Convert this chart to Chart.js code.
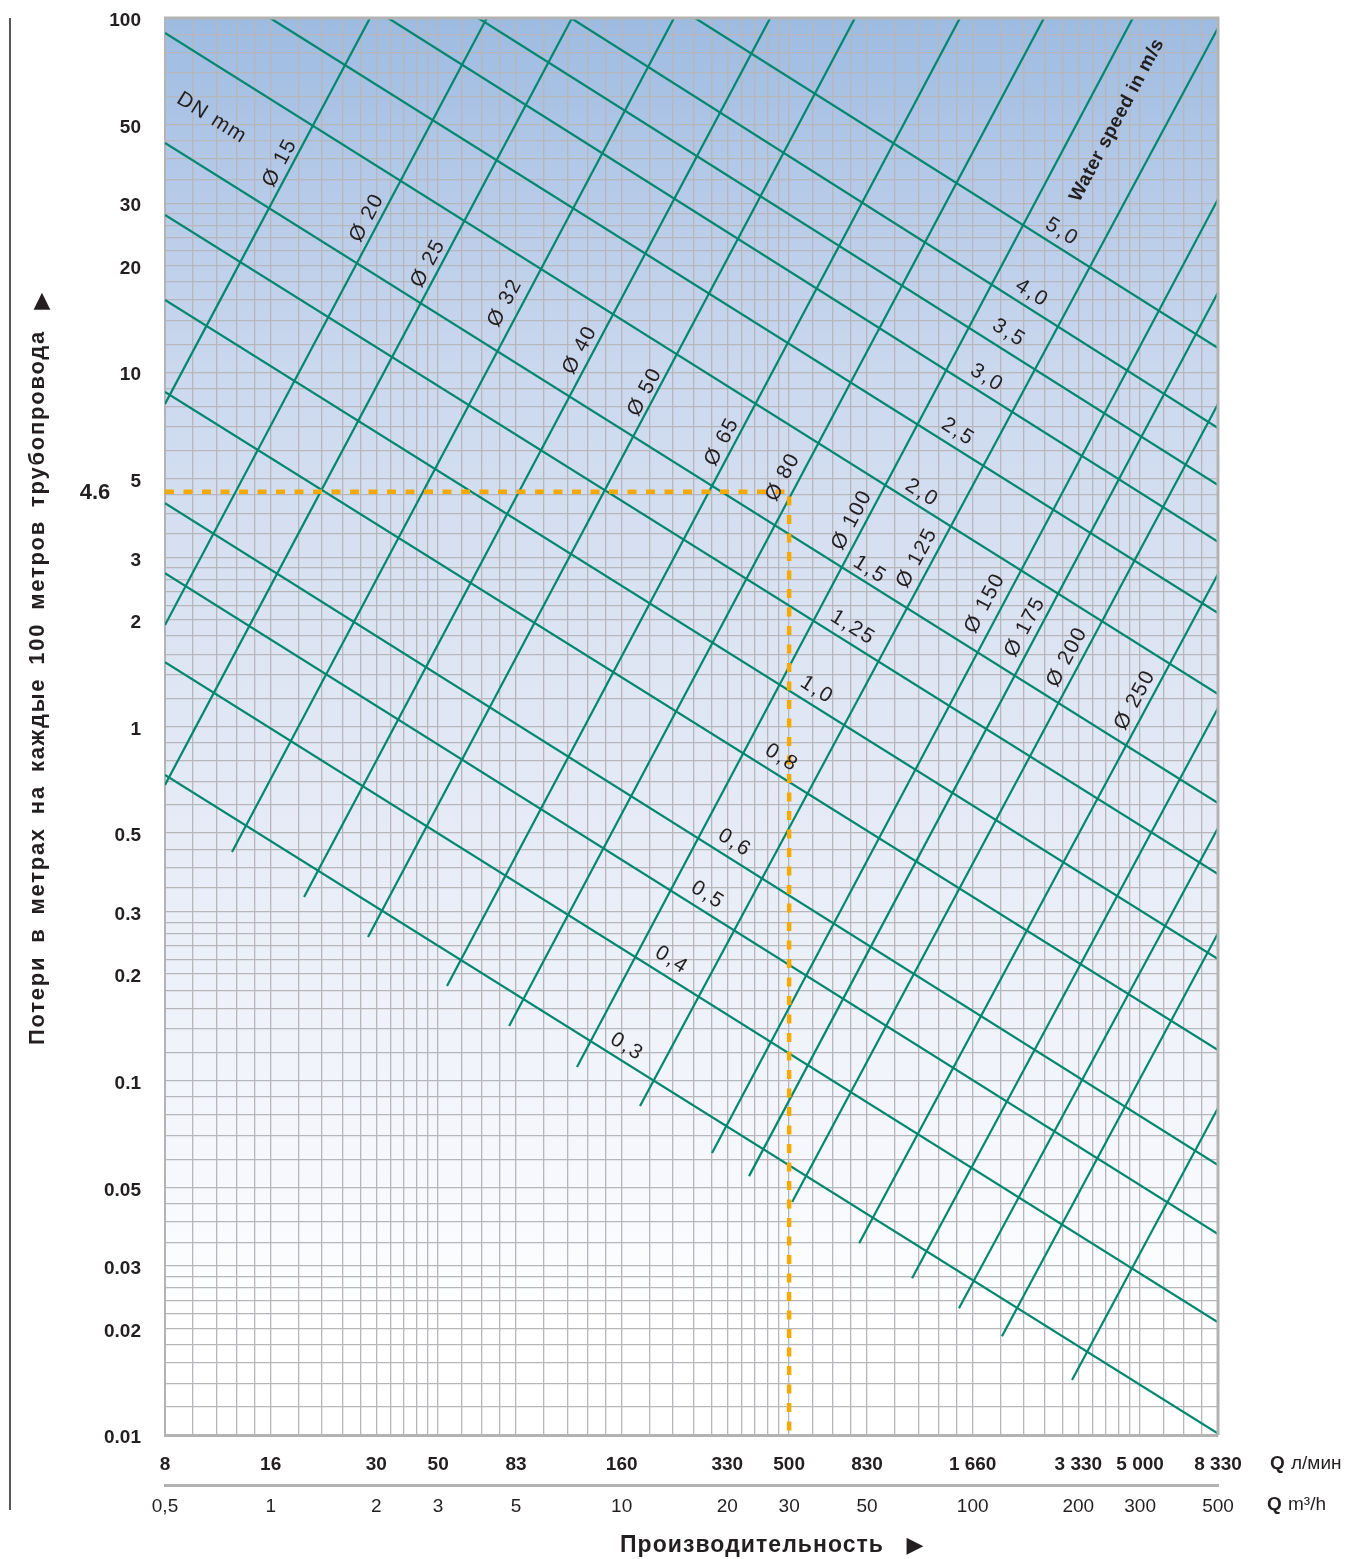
<!DOCTYPE html>
<html>
<head>
<meta charset="utf-8">
<script src="https://cdn.jsdelivr.net/npm/chart.js@4.4.1/dist/chart.umd.min.js"></script>
<style>
html, body { margin: 0; padding: 0; background: #fff; }
</style>
</head>
<body>
<canvas id="graficoPerdas" width="1350" height="1559"></canvas>
<script>

// ===========================
// DADOS
// ===========================

// eixo X em m3/h (linha de cima mostra o mesmo ponto em l/min)
const vazaoTicks = [0.5, 1, 2, 3, 5, 10, 20, 30, 50, 100, 200, 300, 500];
const rotulosLmin = ['8', '16', '30', '50', '83', '160', '330', '500', '830', '1 660', '3 330', '5 000', '8 330'];
const rotulosM3h = ['0,5', '1', '2', '3', '5', '10', '20', '30', '50', '100', '200', '300', '500'];

// eixo Y: perda em metros a cada 100 m
const perdaTicks = [100, 50, 30, 20, 10, 5, 3, 2, 1, 0.5, 0.3, 0.2, 0.1, 0.05, 0.03, 0.02, 0.01];
const rotulosPerda = ['100', '50', '30', '20', '10', '5', '3', '2', '1', '0.5', '0.3', '0.2', '0.1', '0.05', '0.03', '0.02', '0.01'];

// linhas da grade do papel log
const gradeMantissas = [1, 1.2, 1.4, 1.6, 1.8, 2, 2.2, 2.4, 2.6, 2.8, 3, 3.5, 4, 4.5, 5, 6, 7, 8, 9];

// linhas de diâmetro (DN)
const dnNomes = ['Ø 15', 'Ø 20', 'Ø 25', 'Ø 32', 'Ø 40', 'Ø 50', 'Ø 65', 'Ø 80', 'Ø 100', 'Ø 125', 'Ø 150', 'Ø 175', 'Ø 200', 'Ø 250', '', '', '', ''];
const dnQInicio = [0.5, 0.5, 0.5, 0.776, 1.245, 1.894, 3.18, 4.78, 7.46, 11.28, 18.09, 23.06, 30.6, 47.5, 67.2, 91.4, 121.2, 191.9];
const dnPerdaInicio = [8.14, 1.934, 0.684, 0.442, 0.330, 0.2545, 0.185, 0.1427, 0.1093, 0.0849, 0.0625, 0.0538, 0.0455, 0.0348, 0.0277, 0.0228, 0.0190, 0.0143];
const dnQFim = [1.919, 4.13, 7.22, 14.1, 26.5, 46.2, 92.0, 159.7, 286, 500, 500, 500, 500, 500, 500, 500, 500, 500];
const dnPerdaFim = [100, 100, 100, 100, 100, 100, 100, 100, 100, 93.7, 30.8, 16.8, 8.14, 2.695, 1.128, 0.517, 0.261, 0.0838];

// linhas de velocidade da água (m/s)
const velNomes = ['5,0', '4,0', '3,5', '3,0', '2,5', '2,0', '1,5', '1,25', '1,0', '0,8', '0,6', '0,5', '0,4', '0,3'];
const velQInicio = [16.18, 7.17, 3.90, 2.16, 0.996, 0.5, 0.5, 0.5, 0.5, 0.5, 0.5, 0.5, 0.5, 0.5];
const velPerdaInicio = [100, 100, 100, 100, 100, 90.7, 44.4, 27.8, 16.0, 8.80, 4.27, 2.71, 1.52, 0.730];
const velQFim = [500, 500, 500, 500, 500, 500, 500, 500, 500, 500, 500, 500, 500, 500];
const velPerdaFim = [11.7, 6.96, 4.80, 3.32, 2.09, 1.235, 0.608, 0.3835, 0.2207, 0.1221, 0.0578, 0.0369, 0.0208, 0.0101];

// exemplo tracejado
const exemploQ = 30;
const exemploPerda = 4.6;

// ===========================
// POSIÇÃO DOS RÓTULOS (em unidades do gráfico)
// ===========================

const dnRotuloQ = [1.063, 1.882, 2.81, 4.65, 7.61, 11.65, 19.32, 28.8, 45.3, 69.4, 108.4, 141, 185.7, 290];
const dnRotuloPerda = [39.0, 27.3, 20.3, 15.7, 11.56, 8.80, 6.36, 5.06, 3.83, 2.99, 2.23, 1.91, 1.571, 1.188];
const velRotuloQ = [179.7, 147.6, 127, 109.9, 90.9, 71.7, 51.0, 45.6, 36.0, 28.6, 21.0, 17.6, 13.9, 10.36];
const velRotuloPerda = [24.9, 16.7, 12.9, 9.63, 6.78, 4.56, 2.77, 1.90, 1.268, 0.815, 0.469, 0.334, 0.219, 0.1245];


const FONTE = "'Liberation Sans', Arial, sans-serif";
const VERDE = '#00876f';
const TEXTO = '#231f20';


function grade(min, max){
    const valores = [];
    for (let e = -3; e <= 3; e++) {
        gradeMantissas.forEach(m => {
            const v = Number((m * Math.pow(10, e)).toPrecision(6));
            if (v >= min * 0.999999 && v <= max * 1.000001) valores.push(v);
        });
    }
    return valores;
}

function achar(lista, valor){
    return lista.findIndex(t => Math.abs(t - valor) / t < 1e-6);
}


// ===========================
// DATASETS
// ===========================

const datasets = [];

datasets.push({
    data: [
        {x: 0.5, y: exemploPerda},
        {x: exemploQ, y: exemploPerda},
        {x: exemploQ, y: 0.01}
    ],
    borderColor: '#f6aa00',
    borderWidth: 4.5,
    borderDash: [9, 9.5]
});

dnNomes.forEach((nome, i) => {
    datasets.push({
        data: [
            {x: dnQInicio[i], y: dnPerdaInicio[i]},
            {x: dnQFim[i], y: dnPerdaFim[i]}
        ],
        borderColor: VERDE,
        borderWidth: 2.2
    });
});

velNomes.forEach((nome, i) => {
    datasets.push({
        data: [
            {x: velQInicio[i], y: velPerdaInicio[i]},
            {x: velQFim[i], y: velPerdaFim[i]}
        ],
        borderColor: VERDE,
        borderWidth: 2.2
    });
});

datasets.forEach(d => {
    d.showLine = true;
    d.pointRadius = 0;
    d.tension = 0;
    d.xAxisID = 'x';
    d.yAxisID = 'y';
});


// ===========================
// TEXTOS E FUNDO
// ===========================

function textoGirado(ctx, texto, x, y, ang, fonte, espaco){
    ctx.save();
    ctx.translate(x, y);
    ctx.rotate(ang);
    ctx.font = fonte;
    ctx.letterSpacing = espaco || '0px';
    ctx.textAlign = 'center';
    ctx.textBaseline = 'middle';
    ctx.fillStyle = TEXTO;
    ctx.fillText(texto, 0, 0);
    ctx.restore();
}

const decoracao = {

    id: 'decoracao',

    beforeDraw(chart){
        const {ctx, chartArea: a} = chart;
        const g = ctx.createLinearGradient(0, a.top, 0, a.bottom);
        g.addColorStop(0, '#9dbbe1');
        g.addColorStop(0.1, '#b2c8e7');
        g.addColorStop(0.25, '#cbd8ee');
        g.addColorStop(0.45, '#dde5f3');
        g.addColorStop(0.65, '#ebeff8');
        g.addColorStop(0.8, '#f5f7fc');
        g.addColorStop(0.93, '#ffffff');
        ctx.save();
        ctx.fillStyle = g;
        ctx.fillRect(a.left, a.top, a.right - a.left, a.bottom - a.top);
        ctx.restore();
    },

    afterDatasetsDraw(chart){
        const {ctx, chartArea: a} = chart;
        const sx = chart.scales.x;
        const sy = chart.scales.y;

        // bordas de cima e da direita
        ctx.save();
        ctx.strokeStyle = '#b3b3b3';
        ctx.lineWidth = 3;
        ctx.beginPath();
        ctx.moveTo(a.left - 1, a.top);
        ctx.lineTo(a.right, a.top);
        ctx.lineTo(a.right, a.bottom);
        ctx.stroke();

        // linha preta vertical à esquerda
        ctx.strokeStyle = TEXTO;
        ctx.lineWidth = 1.5;
        ctx.beginPath();
        ctx.moveTo(10, a.top);
        ctx.lineTo(10, 1510);
        ctx.stroke();
        ctx.restore();

        // rótulos dos diâmetros
        dnRotuloQ.forEach((q, i) => {
            const x1 = sx.getPixelForValue(dnQInicio[i]), y1 = sy.getPixelForValue(dnPerdaInicio[i]);
            const x2 = sx.getPixelForValue(dnQFim[i]), y2 = sy.getPixelForValue(dnPerdaFim[i]);
            const ang = Math.atan2(y2 - y1, x2 - x1);
            textoGirado(ctx, dnNomes[i], sx.getPixelForValue(q), sy.getPixelForValue(dnRotuloPerda[i]), ang, '21px ' + FONTE, '1.5px');
        });

        // rótulos das velocidades
        velRotuloQ.forEach((q, i) => {
            const x1 = sx.getPixelForValue(velQInicio[i]), y1 = sy.getPixelForValue(velPerdaInicio[i]);
            const x2 = sx.getPixelForValue(velQFim[i]), y2 = sy.getPixelForValue(velPerdaFim[i]);
            const ang = Math.atan2(y2 - y1, x2 - x1);
            textoGirado(ctx, velNomes[i], sx.getPixelForValue(q), sy.getPixelForValue(velRotuloPerda[i]), ang, '21px ' + FONTE, '2px');
        });

        // títulos das famílias de linhas
        const angVel = Math.atan2(
            sy.getPixelForValue(velPerdaFim[6]) - sy.getPixelForValue(velPerdaInicio[6]),
            sx.getPixelForValue(velQFim[6]) - sx.getPixelForValue(velQInicio[6]));
        const angDn = Math.atan2(
            sy.getPixelForValue(dnPerdaFim[3]) - sy.getPixelForValue(dnPerdaInicio[3]),
            sx.getPixelForValue(dnQFim[3]) - sx.getPixelForValue(dnQInicio[3]));
        textoGirado(ctx, 'DN mm', sx.getPixelForValue(0.68), sy.getPixelForValue(52.2), angVel, '21px ' + FONTE, '1.5px');
        textoGirado(ctx, 'Water speed in m/s', sx.getPixelForValue(257.8), sy.getPixelForValue(51.5), angDn, 'bold 19px ' + FONTE, '0.5px');

        // valor do exemplo
        ctx.save();
        ctx.fillStyle = TEXTO;
        ctx.font = 'bold 22px ' + FONTE;
        ctx.textAlign = 'center';
        ctx.textBaseline = 'middle';
        ctx.fillText(String(exemploPerda), 95, sy.getPixelForValue(exemploPerda) + 1);

        // unidades
        ctx.textAlign = 'left';
        ctx.font = 'bold 19px ' + FONTE;
        ctx.fillText('Q', 1270, 1464);
        ctx.fillText('Q', 1267, 1505);
        ctx.font = '19px ' + FONTE;
        ctx.fillText('л/мин', 1291, 1464);
        ctx.fillText('m³/h', 1288, 1505);

        // título do eixo X
        ctx.font = 'bold 23px ' + FONTE;
        const tx = 'Производительность';
        const wx = ctx.measureText(tx).width;
        ctx.letterSpacing = ((263 - wx) / (tx.length - 1)).toFixed(2) + 'px';
        ctx.fillText(tx, 620, 1546);
        ctx.letterSpacing = '0px';
        ctx.font = "22px 'DejaVu Sans', sans-serif";
        ctx.textAlign = 'center';
        ctx.fillText('▶', 915, 1546);
        ctx.fillText('▲', 42, 301);

        // título do eixo Y: espaçamento entre letras ajustado para 715 px
        ctx.translate(38, 1045);
        ctx.rotate(-Math.PI / 2);
        ctx.font = 'bold 22px ' + FONTE;
        ctx.textAlign = 'left';
        const palavras = 'Потери в метрах на каждые 100 метров трубопровода'.split(' ');
        const vao = 13;
        const soma = palavras.reduce((s, p) => s + ctx.measureText(p).width, 0);
        const letras = palavras.reduce((s, p) => s + p.length, 0);
        const esp = (715 - soma - vao * (palavras.length - 1)) / letras;
        ctx.letterSpacing = esp.toFixed(2) + 'px';
        let pos = 0;
        palavras.forEach(p => {
            ctx.fillText(p, pos, 0);
            pos += ctx.measureText(p).width + vao;
        });
        ctx.restore();
    }

};


// ===========================
// GRÁFICO
// ===========================

const gradeX = grade(0.5, 500);
const gradeY = grade(0.01, 100);

new Chart(

    document.getElementById('graficoPerdas'),

    {
        type: 'scatter',

        data: { datasets: datasets },

        options: {
            responsive: false,
            animation: false,
            devicePixelRatio: 1,
            layout: { padding: { top: 18, right: 132, bottom: 0, left: 0 } },
            plugins: {
                legend: { display: false },
                tooltip: { enabled: false }
            },
            scales: {
                x: {
                    type: 'logarithmic',
                    position: 'bottom',
                    min: 0.5,
                    max: 500,
                    afterBuildTicks: s => { s.ticks = gradeX.map(v => ({ value: v })); },
                    afterFit: s => { s.height = 50; },
                    grid: { color: '#b6b6bb', lineWidth: 1.3, drawTicks: false },
                    border: { color: '#b3b3b3', width: 3 },
                    ticks: {
                        autoSkip: false,
                        maxRotation: 0,
                        padding: 18,
                        color: TEXTO,
                        font: { family: FONTE, size: 19, weight: 'bold' },
                        callback: v => {
                            const i = achar(vazaoTicks, v);
                            return i >= 0 ? rotulosLmin[i] : '';
                        }
                    }
                },
                x2: {
                    type: 'logarithmic',
                    position: 'bottom',
                    min: 0.5,
                    max: 500,
                    afterBuildTicks: s => { s.ticks = vazaoTicks.map(v => ({ value: v })); },
                    afterFit: s => { s.height = 74; },
                    grid: { display: false, drawTicks: false },
                    border: { display: true, color: '#b3b3b3', width: 3 },
                    ticks: {
                        autoSkip: false,
                        maxRotation: 0,
                        padding: 10,
                        color: TEXTO,
                        font: { family: FONTE, size: 19 },
                        callback: v => {
                            const i = achar(vazaoTicks, v);
                            return i >= 0 ? rotulosM3h[i] : '';
                        }
                    }
                },
                y: {
                    type: 'logarithmic',
                    position: 'left',
                    min: 0.01,
                    max: 100,
                    afterBuildTicks: s => { s.ticks = gradeY.map(v => ({ value: v })); },
                    afterFit: s => {
                        s.width = 165;
                        s.paddingTop = 0;
                        s.paddingBottom = 0;
                    },
                    grid: { color: '#b6b6bb', lineWidth: 1.3, drawTicks: false },
                    border: { color: '#b3b3b3', width: 2 },
                    ticks: {
                        autoSkip: false,
                        padding: 24,
                        labelOffset: 3,
                        color: TEXTO,
                        font: { family: FONTE, size: 19, weight: 'bold' },
                        callback: v => {
                            const i = achar(perdaTicks, v);
                            return i >= 0 ? rotulosPerda[i] : '';
                        }
                    }
                }
            }
        },

        plugins: [decoracao]
    }

);

</script>
</body>
</html>
